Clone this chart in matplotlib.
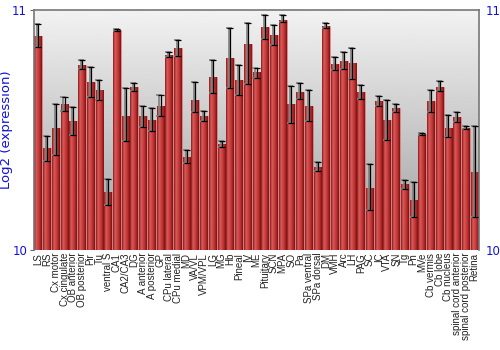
import numpy as np
import matplotlib
matplotlib.use("Agg")
from matplotlib import pyplot as plt
from matplotlib.colors import LinearSegmentedColormap

regions = ["LS", "RS", "Cx motor", "Cx cingulate", "OB anterior", "OB posterior", "Pir", "Tu",
           "ventral S", "CA1", "CA2/CA3", "DG", "A anterior", "A posterior", "GP", "CPu lateral",
           "CPu medial", "MD", "VA/VL", "VPM/VPL", "LG", "MG", "Hb", "Pineal", "IV", "ME",
           "Pituitary", "SCN", "MPA", "SO", "Pa", "SPa ventral", "SPa dorsal", "DM", "VMH", "Arc",
           "LH", "PAG", "SC", "IC", "VTA", "SN", "Tg", "Pn", "MVe", "Cb vermis", "Cb lobe",
           "Cb nucleus", "spinal cord anterior", "spinal cord posterior", "Retina"]

values = [10.892, 10.425, 10.508, 10.608, 10.537, 10.770, 10.700, 10.667,
          10.242, 10.917, 10.560, 10.680, 10.558, 10.540, 10.600, 10.812,
          10.840, 10.388, 10.625, 10.560, 10.720, 10.440, 10.800, 10.710, 10.860, 10.740,
          10.930, 10.896, 10.960, 10.608, 10.660, 10.600, 10.346, 10.935, 10.775, 10.787,
          10.780, 10.660, 10.258, 10.620, 10.540, 10.590, 10.275, 10.208, 10.483, 10.620, 10.680,
          10.510, 10.554, 10.510, 10.325]

err_hi = [10.942, 10.475, 10.608, 10.638, 10.595, 10.792, 10.762, 10.708,
          10.296, 10.921, 10.675, 10.697, 10.600, 10.592, 10.646, 10.825,
          10.875, 10.417, 10.700, 10.579, 10.792, 10.454, 10.925, 10.771, 10.946, 10.758,
          10.979, 10.938, 10.979, 10.683, 10.696, 10.667, 10.367, 10.946, 10.804, 10.825,
          10.842, 10.688, 10.358, 10.642, 10.625, 10.608, 10.292, 10.283, 10.487, 10.667, 10.704,
          10.563, 10.575, 10.517, 10.517]

err_lo = [10.846, 10.371, 10.396, 10.579, 10.479, 10.754, 10.638, 10.625,
          10.188, 10.913, 10.454, 10.663, 10.513, 10.496, 10.558, 10.804,
          10.808, 10.363, 10.575, 10.538, 10.654, 10.429, 10.675, 10.646, 10.692, 10.717,
          10.879, 10.854, 10.950, 10.529, 10.629, 10.538, 10.329, 10.925, 10.750, 10.754,
          10.713, 10.629, 10.167, 10.600, 10.458, 10.575, 10.254, 10.138, 10.479, 10.575, 10.663,
          10.471, 10.533, 10.504, 10.138]

blue = "#1010e0"
x = np.arange(len(regions))
values = np.array(values)
yerr = [values - np.array(err_lo), np.array(err_hi) - values]

fig = plt.figure(figsize=(5, 3.5), dpi=100)
ax = fig.add_axes([0.068, 0.2857, 0.89, 0.6857])
ax.set_xlim(-0.5, len(regions) - 0.5)
ax.set_ylim(10, 11)

# gray gradient background
bg = np.linspace(0.62, 0.95, 256).reshape(-1, 1)
ax.imshow(bg, extent=[-0.5, len(regions) - 0.5, 10, 11], origin="lower", aspect="auto",
          cmap="gray", vmin=0, vmax=1, zorder=0)

bar_cmap = LinearSegmentedColormap.from_list(
    "barred", ["#8a1818", "#d85c5c", "#cc4444", "#b42c2c", "#7a1010"])
grad = np.linspace(0, 1, 64).reshape(1, -1)
bars = ax.bar(x, values - 10, bottom=10, width=0.9, color="#c03a3a",
              edgecolor="#e09090", linewidth=0.4, zorder=2)
for b in bars:
    im = ax.imshow(grad, extent=[b.get_x(), b.get_x() + b.get_width(), 10, 11],
                   aspect="auto", cmap=bar_cmap, zorder=2.5)
    im.set_clip_path(b)

ax.errorbar(x - 0.12, values, yerr=yerr, fmt="none", ecolor="#808080", elinewidth=1.2,
            capsize=2.5, capthick=1.2, zorder=3)
ax.errorbar(x, values, yerr=yerr, fmt="none", ecolor="black", elinewidth=0.9,
            capsize=2.5, capthick=0.9, zorder=4)

ax.set_xticks(x)
ax.set_xticklabels(regions, rotation=90, fontsize=7, color="#222222", family="Liberation Sans")
ax.tick_params(axis="x", length=0, pad=2)
ax.set_yticks([10, 11])
ax.tick_params(axis="y", labelsize=8.5, labelcolor=blue, length=3, color="#666666",
               left=True, right=False, labelright=True, pad=2)
ax.set_ylabel("Log2 (expression)", color=blue, fontsize=9.5, labelpad=-1)
for side in ["left", "right", "top"]:
    ax.spines[side].set_color("#777777")
    ax.spines[side].set_linewidth(1.2)
ax.spines["bottom"].set_visible(False)

fig.savefig("out.png", dpi=100)
